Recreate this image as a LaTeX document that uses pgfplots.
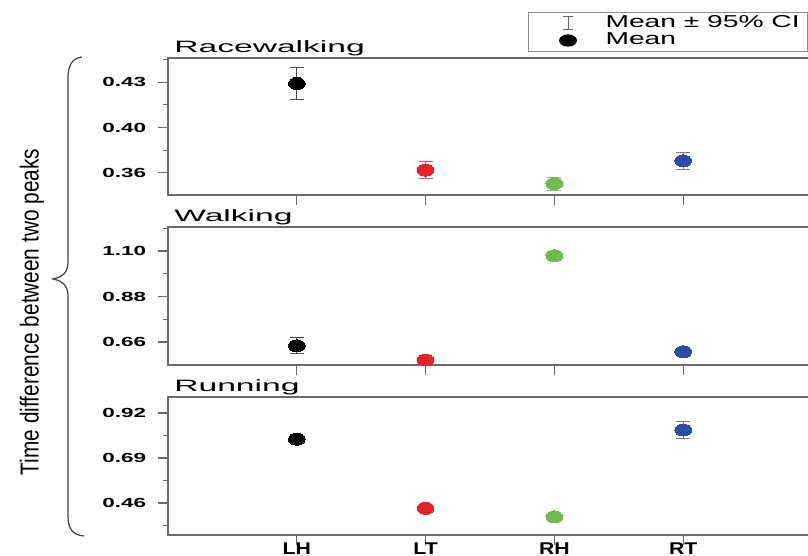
\documentclass[border=0pt]{standalone}
\usepackage{fontspec}
\setmainfont{Liberation Sans}
\usepackage{graphicx}
\usepackage{pgfplots}
\pgfplotsset{compat=1.18}
\definecolor{cred}{RGB}{232,32,40}
\definecolor{cgreen}{RGB}{108,188,70}
\definecolor{cblue}{RGB}{44,74,166}
\definecolor{axgray}{RGB}{105,105,105}
\pgfplotsset{
  panel/.style={
    scale only axis, width=325.2pt, anchor=south west,
    xmin=0, xmax=5.05, xtick={1,2,3,4}, xticklabels={},
    xtick pos=bottom, ytick pos=left,
    tick align=outside,
    major tick length=5pt, minor tick length=2.5pt,
    axis line style={axgray, line width=0.7pt},
    every tick/.style={axgray, line width=0.6pt},
    yticklabel style={font=\bfseries\fontsize{6.6pt}{8pt}\selectfont, xscale=1.7, xshift=0pt},
    xticklabel style={font=\bfseries\fontsize{8.5pt}{10pt}\selectfont, xscale=1.25, yshift=4.5pt},
    every axis title shift=0pt,
    title style={font=\fontsize{8.2pt}{10pt}\selectfont, xscale=2.05, at={(0,1)}, anchor=base west, xshift=-2pt, yshift=2.5pt},
    error bars/error bar style={line width=0.5pt},
    error bars/error mark options={rotate=90, mark size=3.5pt, line width=0.5pt},
    clip=false,
  },
  pt/.style={only marks, color=#1, mark=*, mark size=3pt, mark options={xscale=1.4, draw=#1, fill=#1, line width=0pt},
    error bars/y dir=both, error bars/y explicit},
}
\begin{document}
\begin{tikzpicture}
\useasboundingbox (0,0) rectangle (404pt,278pt);
\begin{scope}[x=0.5pt,y=-0.5pt,shift={(0pt,278pt)}]
  \draw[black!75, line width=0.6pt] (82,57) .. controls (72,58) and (68,66) .. (68,78) -- (68,262)
     .. controls (68,272) and (63,277) .. (53,279) .. controls (63,281) and (68,286) .. (68,296)
     -- (68,516) .. controls (68,528) and (72,535) .. (84,536);
  \node[rotate=90] at (32,312) {\scalebox{0.8}[1]{\fontsize{13pt}{15pt}\selectfont Time difference between two peaks}};
\end{scope}

% Racewalking
\begin{axis}[panel, at={(84pt,180.5pt)}, height=68.5pt,
  ymin=0.3429, ymax=0.4487,
  ytick={0.36,0.395,0.43}, yticklabels={0.36,0.40,0.43},
  minor ytick={0.3775,0.4125,0.4475},
  title={Racewalking},
  legend cell align=left,
  legend style={at={(axis description cs:0.5535,1.336)}, anchor=north west,
    draw=black!45, line width=0.5pt, font=\fontsize{8.6pt}{10pt}\selectfont,
    row sep=-2pt, inner xsep=2pt, inner ysep=0pt, nodes={inner xsep=2pt, inner ysep=1.6pt}},
]
\addplot[pt=black, error bars/error bar style={black!70}, forget plot] coordinates {(1,0.429) +- (0,0.0127)};
\addplot[pt=cred, error bars/error bar style={cred!80}, forget plot] coordinates {(2,0.3621) +- (0,0.0068)};
\addplot[pt=cgreen, error bars/error bar style={cgreen!80}, forget plot] coordinates {(3,0.3517) +- (0,0.005)};
\addplot[pt=cblue, error bars/error bar style={black!50}, forget plot] coordinates {(4,0.3693) +- (0,0.0065)};
\addlegendimage{legend image code/.code={
  \path (0pt,0pt) (34pt,0pt);
  \draw[black!60, line width=0.5pt] (17.5pt,-3.3pt) -- (17.5pt,3.3pt)
    (15pt,-3.3pt) -- (20pt,-3.3pt) (15pt,3.3pt) -- (20pt,3.3pt);}}
\addlegendentry{\scalebox{1.64}[1]{Mean ± 95\% CI}}
\addlegendimage{legend image code/.code={\path (0pt,0pt) (34pt,0pt); \fill[black] (17.5pt,0) ellipse (4.2pt and 2.8pt);}}
\addlegendentry{\scalebox{1.64}[1]{Mean}}
\end{axis}

% Walking
\begin{axis}[panel, at={(84pt,95.5pt)}, height=69pt,
  ymin=0.549, ymax=1.216,
  ytick={0.66,0.88,1.10}, yticklabels={0.66,0.88,1.10},
  minor ytick={0.77,0.99,1.21},
  title={Walking},
]
\addplot[pt=black, error bars/error bar style={black!70}] coordinates {(1,0.642) +- (0,0.039)};
\addplot[pt=cred, error bars/error bar style={cred!80}] coordinates {(2,0.573) +- (0,0.008)};
\addplot[pt=cgreen, error bars/error bar style={cgreen!80}] coordinates {(3,1.077) +- (0,0.02)};
\addplot[pt=cblue, error bars/error bar style={black!50}] coordinates {(4,0.613) +- (0,0.01)};
\end{axis}

% Running
\begin{axis}[panel, at={(84pt,10.5pt)}, height=69pt,
  ymin=0.297, ymax=1.0016,
  ytick={0.46,0.69,0.92}, yticklabels={0.46,0.69,0.92},
  minor ytick={0.345,0.575,0.805},
  xticklabels={LH,LT,RH,RT},
  title={Running},
]
\addplot[pt=black, error bars/error bar style={black!70}] coordinates {(1,0.786) +- (0,0.01)};
\addplot[pt=cred, error bars/error bar style={cred!80}] coordinates {(2,0.433) +- (0,0.01)};
\addplot[pt=cgreen, error bars/error bar style={cgreen!80}] coordinates {(3,0.390) +- (0,0.01)};
\addplot[pt=cblue, error bars/error bar style={black!50}] coordinates {(4,0.833) +- (0,0.042)};
\end{axis}
\end{tikzpicture}
\end{document}
